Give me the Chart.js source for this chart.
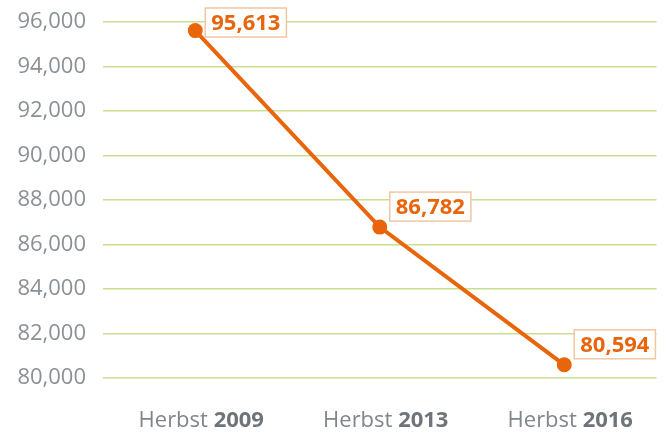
<!DOCTYPE html>
<html>
<head>
<meta charset="utf-8">
<script src="https://cdn.jsdelivr.net/npm/chart.js@4"></script>
<style>
  html, body { margin: 0; padding: 0; background: #ffffff; }
  #chart { display: block; }
</style>
</head>
<body>
<canvas id="chart" width="664" height="435"></canvas>
<script>
// Chart data
const seasons = ["Herbst", "Herbst", "Herbst"];
const years = ["2009", "2013", "2016"];
const values = [95613, 86782, 80594];

// Axis range
const yMin = 80000;
const yMax = 96000;
const yStep = 2000;

const orange = "#e8650c";
const gridGreen = "#c9de8f";
const tickGrey = "#8a9095";

Chart.defaults.font.family = "'Open Sans', sans-serif";

// Draws the value boxes and the two-weight x labels
const labelsPlugin = {
  id: "labelsPlugin",
  afterDraw(chart) {
    const ctx = chart.ctx;
    const meta = chart.getDatasetMeta(0);

    ctx.save();
    // value boxes
    ctx.font = "bold 22px 'Open Sans', sans-serif";
    meta.data.forEach((pt, i) => {
      const text = values[i].toLocaleString("en-US");
      const w = ctx.measureText(text).width + 12;
      const h = 29;
      let left = pt.x + 10;
      if (left + w > chart.width - 1) left = chart.width - 1 - w;
      let top = Math.max(8, pt.y - 6 - h);
      ctx.fillStyle = "#ffffff";
      ctx.fillRect(left, top, w, h);
      ctx.strokeStyle = "#f2c6a0";
      ctx.lineWidth = 1.5;
      ctx.strokeRect(left, top, w, h);
      ctx.fillStyle = orange;
      ctx.textAlign = "left";
      ctx.textBaseline = "middle";
      ctx.fillText(text, left + 6, top + h / 2 + 1);
    });

    // x labels: "Herbst" regular + year bold
    const xScale = chart.scales.x;
    ctx.textBaseline = "alphabetic";
    ctx.textAlign = "left";
    years.forEach((yr, i) => {
      const cx = xScale.getPixelForTick(i) + 6;
      ctx.font = "22px 'Open Sans', sans-serif";
      const a = seasons[i] + " ";
      const wa = ctx.measureText(a).width;
      ctx.font = "bold 22px 'Open Sans', sans-serif";
      const wb = ctx.measureText(yr).width;
      const start = cx - (wa + wb) / 2;
      ctx.font = "22px 'Open Sans', sans-serif";
      ctx.fillStyle = "#80868b";
      ctx.fillText(a, start, 427);
      ctx.font = "bold 22px 'Open Sans', sans-serif";
      ctx.fillStyle = "#6e747a";
      ctx.fillText(yr, start + wa, 427);
    });
    ctx.restore();
  },
};

function noPadding(scale) {
  scale.paddingTop = 0;
  scale.paddingBottom = 0;
  scale.paddingLeft = 0;
  scale.paddingRight = 0;
}

new Chart(document.getElementById("chart"), {
  type: "line",
  data: {
    labels: years.map((y, i) => seasons[i] + " " + y),
    datasets: [
      {
        data: values,
        borderColor: orange,
        backgroundColor: orange,
        borderWidth: 4,
        pointRadius: 7.5,
        pointBackgroundColor: orange,
        pointBorderWidth: 0,
        tension: 0,
        fill: false,
        clip: false,
      },
    ],
  },
  options: {
    responsive: false,
    animation: false,
    layout: {
      padding: { top: 22, bottom: 57, left: 0, right: 0 },
    },
    plugins: {
      legend: { display: false },
      tooltip: { enabled: false },
    },
    scales: {
      x: {
        offset: true,
        afterFit: (scale) => {
          scale.height = 0;
          noPadding(scale);
        },
        grid: { display: false },
        border: { display: false },
        ticks: { display: false },
      },
      y: {
        min: yMin,
        max: yMax,
        afterFit: (scale) => {
          scale.width = 103;
          noPadding(scale);
        },
        ticks: {
          stepSize: yStep,
          padding: 17,
          color: tickGrey,
          font: { size: 22 },
          callback: (v) => v.toLocaleString("en-US"),
        },
        grid: {
          color: gridGreen,
          lineWidth: 1.6,
          drawTicks: false,
        },
        border: { display: false },
      },
    },
  },
  plugins: [labelsPlugin],
});
</script>
</body>
</html>
